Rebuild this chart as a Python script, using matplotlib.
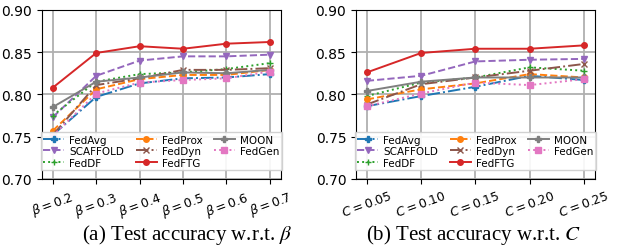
import matplotlib
matplotlib.use('Agg')
import matplotlib.pyplot as plt

# Данные: (a) по beta, (b) по C
beta_labels = [r'$\beta=0.2$', r'$\beta=0.3$', r'$\beta=0.4$', r'$\beta=0.5$', r'$\beta=0.6$', r'$\beta=0.7$']
c_labels = [r'$C=0.05$', r'$C=0.10$', r'$C=0.15$', r'$C=0.20$', r'$C=0.25$']

methods = ['FedAvg', 'SCAFFOLD', 'FedDF', 'FedProx', 'FedDyn', 'FedFTG', 'MOON', 'FedGen']

beta_fedavg = [0.752, 0.797, 0.813, 0.819, 0.820, 0.824]
beta_scaffold = [0.773, 0.822, 0.840, 0.845, 0.845, 0.847]
beta_feddf = [0.775, 0.815, 0.824, 0.826, 0.830, 0.837]
beta_fedprox = [0.757, 0.806, 0.818, 0.823, 0.823, 0.829]
beta_feddyn = [0.752, 0.811, 0.819, 0.829, 0.829, 0.831]
beta_fedftg = [0.808, 0.849, 0.857, 0.854, 0.860, 0.862]
beta_moon = [0.785, 0.815, 0.820, 0.826, 0.825, 0.829]
beta_fedgen = [0.751, 0.801, 0.814, 0.817, 0.819, 0.827]

c_fedavg = [0.786, 0.798, 0.809, 0.822, 0.817]
c_scaffold = [0.816, 0.822, 0.839, 0.841, 0.842]
c_feddf = [0.798, 0.814, 0.820, 0.832, 0.828]
c_fedprox = [0.794, 0.806, 0.813, 0.824, 0.820]
c_feddyn = [0.788, 0.812, 0.820, 0.828, 0.836]
c_fedftg = [0.826, 0.849, 0.854, 0.854, 0.858]
c_moon = [0.804, 0.815, 0.820, 0.820, 0.820]
c_fedgen = [0.786, 0.801, 0.814, 0.811, 0.818]

beta_data = [beta_fedavg, beta_scaffold, beta_feddf, beta_fedprox,
             beta_feddyn, beta_fedftg, beta_moon, beta_fedgen]
c_data = [c_fedavg, c_scaffold, c_feddf, c_fedprox,
          c_feddyn, c_fedftg, c_moon, c_fedgen]

# Стили линий
styles = {
    'FedAvg': dict(color='tab:blue', linestyle='-.', marker='P'),
    'SCAFFOLD': dict(color='tab:purple', linestyle='--', marker='v'),
    'FedDF': dict(color='tab:green', linestyle=':', marker='+'),
    'FedProx': dict(color='tab:orange', linestyle='--', marker='o'),
    'FedDyn': dict(color='tab:brown', linestyle='-.', marker='x'),
    'FedFTG': dict(color='tab:red', linestyle='-', marker='o'),
    'MOON': dict(color='tab:gray', linestyle='-', marker='P'),
    'FedGen': dict(color='tab:pink', linestyle=':', marker='s'),
}

fig = plt.figure(figsize=(6.17, 2.53), dpi=100)
ax1 = fig.add_axes([0.068, 0.289, 0.387, 0.668])
ax2 = fig.add_axes([0.577, 0.289, 0.387, 0.668])

for ax, labels, data in [(ax1, beta_labels, beta_data), (ax2, c_labels, c_data)]:
    x = list(range(len(labels)))
    for name, ys in zip(methods, data):
        ax.plot(x, ys, label=name, linewidth=1.4, markersize=4, **styles[name])
    ax.set_ylim(0.70, 0.90)
    ax.set_yticks([0.70, 0.75, 0.80, 0.85, 0.90])
    ax.set_yticklabels(['0.70', '0.75', '0.80', '0.85', '0.90'], fontsize=10)
    ax.set_xticks(x)
    ax.set_xticklabels(labels, rotation=20, fontsize=9)
    ax.grid(True, color='#b0b0b0', linewidth=1.3)
    ax.set_axisbelow(True)
    ax.legend(loc='lower center', bbox_to_anchor=(0.5, 0.02),
              ncol=3, fontsize=7.5, handlelength=2.0,
              handletextpad=0.5, columnspacing=1.1, labelspacing=0.15,
              borderpad=0.25, fancybox=False, edgecolor='#cccccc', framealpha=0.9)

# Подписи под графиками
fig.text(0.303, 0.072, r'(a) Test accuracy w.r.t. $\beta$', ha='center', va='center',
         fontsize=15, family='Liberation Serif', math_fontfamily='stix')
fig.text(0.767, 0.072, r'(b) Test accuracy w.r.t. $C$', ha='center', va='center',
         fontsize=15, family='Liberation Serif', math_fontfamily='stix')

fig.savefig('out.png', dpi=100)
